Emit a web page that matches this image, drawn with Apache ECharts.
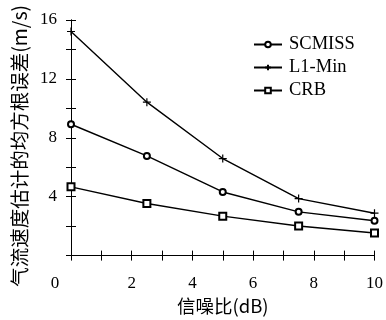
<!DOCTYPE html>
<html>
<head>
<meta charset="utf-8">
<script src="https://cdn.jsdelivr.net/npm/echarts@6/dist/echarts.min.js"></script>
<style>
html, body { margin: 0; padding: 0; background: #fff; }
#chart { width: 386px; height: 320px; }
</style>
</head>
<body>
<div id="chart"></div>
<script>
// SNR (dB) and RMSE of the airflow velocity estimate (m/s)
var snr = [0, 2.5, 5, 7.5, 10];
var scmiss = [8.92, 6.77, 4.32, 2.97, 2.37];
var l1min = [15.22, 10.42, 6.59, 3.87, 2.88];
var crb = [4.67, 3.54, 2.68, 2.01, 1.53];

var serif = "'Liberation Serif', 'DejaVu Serif', serif";
var cjk = "'Noto Sans CJK SC', sans-serif";

function pairs(ys) {
    return snr.map(function (x, i) { return [x, ys[i]]; });
}

var chart = echarts.init(document.getElementById("chart"));

var lineStyle = { color: "#000", width: 1.4 };
var tick = { show: true, inside: true, length: 5, lineStyle: { color: "#000", width: 1 } };

var option = {
    animation: false,
    backgroundColor: "#fff",
    grid: { left: 71, right: 8, top: 20, bottom: 59 },
    legend: {
        left: 248,
        top: 30,
        orient: "vertical",
        itemWidth: 28,
        itemHeight: 7,
        itemGap: 4,
        textStyle: { fontFamily: serif, fontSize: 18.5, color: "#000", padding: [0, 0, 0, 2] },
        data: ["SCMISS", "L1-Min", "CRB"]
    },
    xAxis: [
        {
            type: "value",
            min: 0,
            max: 10,
            interval: 1,
            name: "信噪比(dB)",
            nameLocation: "middle",
            nameGap: 40,
            nameTextStyle: { fontFamily: cjk, fontSize: 18.5, color: "#000" },
            axisLine: { lineStyle: { color: "#000", width: 1 } },
            axisTick: tick,
            splitLine: { show: false },
            axisLabel: {
                margin: 19,
                fontFamily: serif,
                fontSize: 17,
                color: "#000",
                formatter: function (v) {
                    if (v % 2 !== 0) return "";
                    return v === 0 ? "{z|0}" : String(v);
                },
                rich: { z: { fontFamily: serif, fontSize: 17, color: "#000", padding: [0, 32, 0, 0] } }
            }
        },
        {
            type: "value",
            position: "top",
            min: 0,
            max: 10,
            interval: 1,
            axisLine: { lineStyle: { color: "#000", width: 1 } },
            axisTick: tick,
            splitLine: { show: false },
            axisLabel: { show: false }
        }
    ],
    yAxis: [
        {
            type: "value",
            min: 0,
            max: 16,
            interval: 2,
            name: "气流速度估计的均方根误差(m/s)",
            nameLocation: "middle",
            nameGap: 35,
            nameTextStyle: { fontFamily: cjk, fontSize: 19.5, color: "#000", padding: [0, 16, 0, 0] },
            axisLine: { show: true, lineStyle: { color: "#000", width: 1 } },
            axisTick: tick,
            splitLine: { show: false },
            axisLabel: {
                margin: 14,
                fontFamily: serif,
                fontSize: 17,
                color: "#000",
                formatter: function (v) {
                    return v === 0 || v % 4 !== 0 ? "" : String(v);
                }
            }
        },
        {
            type: "value",
            position: "right",
            min: 0,
            max: 16,
            interval: 2,
            axisLine: { show: true, lineStyle: { color: "#000", width: 1 } },
            axisTick: tick,
            splitLine: { show: false },
            axisLabel: { show: false }
        }
    ],
    series: [
        {
            name: "SCMISS",
            type: "line",
            data: pairs(scmiss),
            symbol: "emptyCircle",
            symbolSize: 6,
            itemStyle: { color: "#000", borderColor: "#000", borderWidth: 1.2 },
            lineStyle: lineStyle
        },
        {
            name: "L1-Min",
            type: "line",
            data: pairs(l1min),
            symbol: "path://M0,5L10,5M5,0L5,10",
            symbolSize: 8,
            itemStyle: { color: "#000", borderColor: "#000", borderWidth: 1.2 },
            lineStyle: lineStyle
        },
        {
            name: "CRB",
            type: "line",
            data: pairs(crb),
            symbol: "emptyRect",
            symbolSize: 7,
            itemStyle: { color: "#000", borderColor: "#000", borderWidth: 1.2 },
            lineStyle: lineStyle
        }
    ]
};

chart.setOption(option);
</script>
</body>
</html>
